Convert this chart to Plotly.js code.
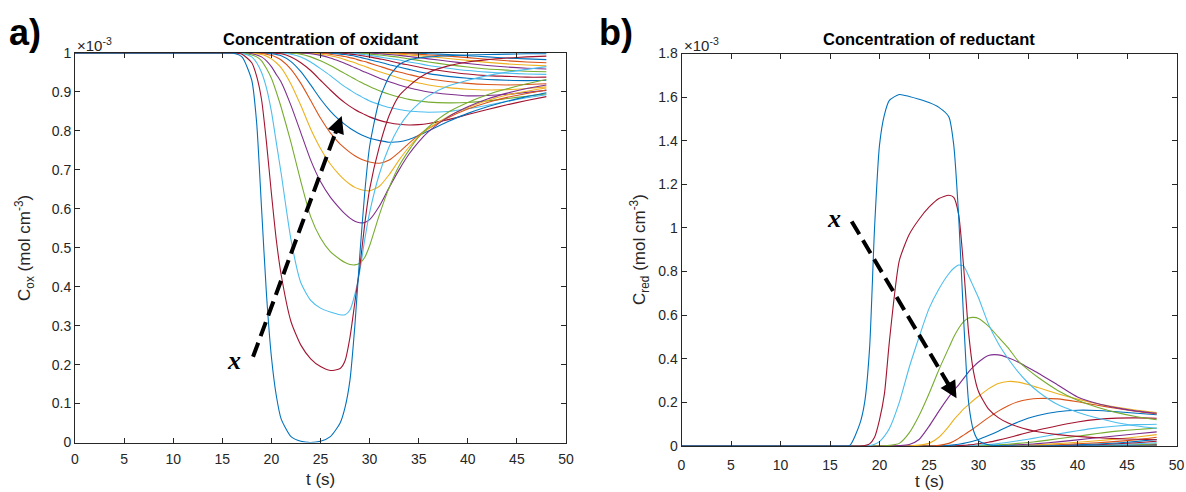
<!DOCTYPE html>
<html>
<head>
<meta charset="utf-8">
<script src="https://cdn.plot.ly/plotly-3.0.1.min.js"></script>
<style>html,body{margin:0;padding:0;background:#fff;}#chart{width:1186px;height:492px;}</style>
</head>
<body>
<div id="chart"></div>
<script>
// time grid (s), shared by every curve
const tGrid = [0,15,16,17,18,18.5,19,19.5,20,20.5,21,22,23,24,25,26,27,27.5,28,28.5,29,29.5,30,31,32,33,34,35,36,38,40,42,44,46,48];

// x-axis ticks
const tTicks = [0,5,10,15,20,25,30,35,40,45,50];

// Oxidant concentration (x 1e-3 mol cm^-3), curve k = 0 (nearest) .. 21 (farthest)
const ox0 = [1,1,1,0.99,0.93,0.82,0.6,0.38,0.22,0.12,0.06,0.015,0.003,0,0.003,0.015,0.05,0.09,0.16,0.3,0.48,0.64,0.76,0.88,0.94,0.97,0.982,0.987,0.99,0.993,0.995,0.996,0.997,0.998,0.998];
const ox1 = [1,1,1,0.997,0.975,0.94,0.88,0.77,0.64,0.52,0.43,0.31,0.25,0.215,0.195,0.185,0.19,0.21,0.27,0.36,0.45,0.56,0.65,0.76,0.84,0.89,0.915,0.935,0.95,0.967,0.977,0.983,0.987,0.99,0.992];
const ox2 = [1,1,1,0.999,0.99,0.975,0.95,0.91,0.85,0.77,0.69,0.52,0.41,0.365,0.345,0.335,0.328,0.328,0.34,0.38,0.44,0.52,0.59,0.69,0.76,0.81,0.845,0.87,0.89,0.915,0.93,0.942,0.951,0.958,0.965];
const ox3 = [1,1,1,1,0.995,0.99,0.98,0.96,0.935,0.9,0.86,0.77,0.67,0.58,0.525,0.49,0.47,0.462,0.457,0.456,0.46,0.475,0.505,0.585,0.655,0.71,0.75,0.785,0.81,0.848,0.873,0.893,0.908,0.921,0.932];
const ox4 = [1,1,1,1,0.998,0.995,0.99,0.98,0.965,0.945,0.925,0.865,0.795,0.725,0.67,0.63,0.6,0.587,0.576,0.568,0.564,0.565,0.572,0.607,0.655,0.7,0.74,0.772,0.798,0.836,0.862,0.882,0.897,0.909,0.918];
const ox5 = [1,1,1,1,1,0.998,0.996,0.992,0.985,0.975,0.962,0.92,0.865,0.805,0.755,0.715,0.685,0.673,0.663,0.655,0.65,0.647,0.646,0.658,0.688,0.725,0.758,0.785,0.806,0.837,0.86,0.878,0.892,0.902,0.91];
const ox6 = [1,1,1,1,1,1,0.999,0.997,0.994,0.989,0.982,0.958,0.922,0.878,0.833,0.795,0.766,0.755,0.745,0.736,0.729,0.724,0.72,0.717,0.725,0.745,0.768,0.789,0.806,0.834,0.856,0.873,0.886,0.896,0.905];
const ox7 = [1,1,1,1,1,1,1,1,0.998,0.996,0.993,0.978,0.952,0.918,0.882,0.851,0.826,0.816,0.807,0.799,0.792,0.786,0.781,0.775,0.771,0.772,0.778,0.788,0.8,0.824,0.845,0.862,0.876,0.888,0.898];
const ox8 = [1,1,1,1,1,1,1,1,1,0.999,0.998,0.99,0.975,0.955,0.93,0.905,0.882,0.872,0.863,0.855,0.848,0.842,0.836,0.827,0.821,0.817,0.815,0.816,0.819,0.829,0.842,0.855,0.867,0.878,0.888];
const ox9 = [1,1,1,1,1,1,1,1,1,1,1,0.997,0.99,0.977,0.96,0.942,0.922,0.913,0.905,0.897,0.89,0.883,0.877,0.868,0.86,0.855,0.851,0.849,0.848,0.85,0.857,0.866,0.876,0.885,0.893];
const ox10 = [1,1,1,1,1,1,1,1,1,1,1,1,0.997,0.99,0.98,0.968,0.954,0.947,0.94,0.933,0.926,0.92,0.914,0.903,0.894,0.887,0.881,0.877,0.874,0.872,0.873,0.877,0.883,0.889,0.895];
const ox11 = [1,1,1,1,1,1,1,1,1,1,1,1,1,0.998,0.994,0.987,0.978,0.973,0.968,0.962,0.957,0.951,0.946,0.935,0.926,0.918,0.911,0.905,0.9,0.894,0.89,0.891,0.894,0.899,0.904];
const ox12 = [1,1,1,1,1,1,1,1,1,1,1,1,1,1,0.997,0.993,0.987,0.983,0.979,0.975,0.97,0.966,0.961,0.952,0.944,0.936,0.929,0.923,0.918,0.911,0.907,0.905,0.906,0.909,0.913];
const ox13 = [1,1,1,1,1,1,1,1,1,1,1,1,1,1,1,0.997,0.993,0.991,0.988,0.985,0.981,0.978,0.974,0.966,0.958,0.951,0.945,0.939,0.934,0.927,0.922,0.919,0.918,0.919,0.921];
const ox14 = [1,1,1,1,1,1,1,1,1,1,1,1,1,1,1,1,0.997,0.996,0.994,0.992,0.989,0.986,0.983,0.977,0.97,0.964,0.958,0.952,0.947,0.94,0.935,0.932,0.93,0.929,0.93];
const ox15 = [1,1,1,1,1,1,1,1,1,1,1,1,1,1,1,1,1,0.999,0.997,0.996,0.994,0.992,0.99,0.985,0.98,0.974,0.969,0.964,0.959,0.952,0.946,0.942,0.94,0.938,0.938];
const ox16 = [1,1,1,1,1,1,1,1,1,1,1,1,1,1,1,1,1,1,1,0.999,0.997,0.996,0.994,0.99,0.986,0.982,0.977,0.973,0.968,0.961,0.955,0.951,0.948,0.946,0.945];
const ox17 = [1,1,1,1,1,1,1,1,1,1,1,1,1,1,1,1,1,1,1,1,1,0.999,0.997,0.995,0.992,0.989,0.985,0.981,0.977,0.97,0.964,0.959,0.956,0.953,0.952];
const ox18 = [1,1,1,1,1,1,1,1,1,1,1,1,1,1,1,1,1,1,1,1,1,1,1,0.998,0.996,0.994,0.991,0.988,0.985,0.979,0.973,0.968,0.964,0.961,0.959];
const ox19 = [1,1,1,1,1,1,1,1,1,1,1,1,1,1,1,1,1,1,1,1,1,1,1,1,0.998,0.997,0.995,0.993,0.991,0.986,0.981,0.976,0.972,0.969,0.967];
const ox20 = [1,1,1,1,1,1,1,1,1,1,1,1,1,1,1,1,1,1,1,1,1,1,1,1,1,0.999,0.998,0.997,0.995,0.992,0.988,0.984,0.98,0.977,0.975];
const ox21 = [1,1,1,1,1,1,1,1,1,1,1,1,1,1,1,1,1,1,1,1,1,1,1,1,1,1,0.999,0.999,0.998,0.996,0.993,0.99,0.987,0.985,0.983];

// Reductant concentration (x 1e-3 mol cm^-3)
const rd0 = [0,0,0,0.003,0.1,0.2,0.45,1.0,1.38,1.52,1.585,1.612,1.603,1.59,1.575,1.553,1.51,1.38,1.05,0.58,0.2,0.07,0.025,0.006,0.002,0.001,0,0,0,0,0,0,0,0,0];
const rd1 = [0,0,0,0,0,0.002,0.01,0.04,0.12,0.24,0.48,0.85,0.97,1.04,1.095,1.135,1.15,1.14,1.06,0.82,0.52,0.34,0.25,0.17,0.13,0.105,0.088,0.075,0.065,0.052,0.044,0.038,0.034,0.031,0.029];
const rd2 = [0,0,0,0,0,0,0.002,0.008,0.02,0.045,0.08,0.2,0.36,0.5,0.63,0.72,0.79,0.815,0.83,0.825,0.78,0.73,0.68,0.56,0.47,0.4,0.34,0.29,0.25,0.19,0.155,0.128,0.107,0.092,0.081];
const rd3 = [0,0,0,0,0,0,0,0,0,0.001,0.003,0.012,0.06,0.14,0.24,0.35,0.45,0.5,0.54,0.57,0.587,0.59,0.585,0.55,0.5,0.45,0.39,0.35,0.315,0.255,0.21,0.178,0.153,0.134,0.12];
const rd4 = [0,0,0,0,0,0,0,0,0,0,0,0.002,0.007,0.03,0.09,0.16,0.225,0.255,0.28,0.31,0.34,0.364,0.385,0.415,0.418,0.405,0.385,0.36,0.335,0.28,0.225,0.195,0.175,0.16,0.15];
const rd5 = [0,0,0,0,0,0,0,0,0,0,0,0,0,0.004,0.012,0.04,0.09,0.12,0.145,0.17,0.19,0.21,0.228,0.262,0.287,0.296,0.293,0.282,0.268,0.24,0.215,0.194,0.178,0.164,0.153];
const rd6 = [0,0,0,0,0,0,0,0,0,0,0,0,0,0,0,0.003,0.012,0.022,0.035,0.05,0.065,0.08,0.097,0.13,0.16,0.185,0.203,0.213,0.218,0.216,0.203,0.187,0.172,0.158,0.147];
const rd7 = [0,0,0,0,0,0,0,0,0,0,0,0,0,0,0,0,0.003,0.005,0.008,0.012,0.017,0.023,0.03,0.048,0.068,0.09,0.11,0.127,0.14,0.157,0.164,0.163,0.157,0.15,0.143];
const rd8 = [0,0,0,0,0,0,0,0,0,0,0,0,0,0,0,0,0,0,0.002,0.003,0.005,0.007,0.01,0.017,0.027,0.038,0.05,0.062,0.073,0.093,0.11,0.122,0.128,0.129,0.127];
const rd9 = [0,0,0,0,0,0,0,0,0,0,0,0,0,0,0,0,0,0,0,0,0.002,0.003,0.004,0.007,0.011,0.017,0.024,0.031,0.039,0.055,0.07,0.083,0.092,0.098,0.1];
const rd10 = [0,0,0,0,0,0,0,0,0,0,0,0,0,0,0,0,0,0,0,0,0,0,0.002,0.003,0.005,0.008,0.012,0.016,0.021,0.033,0.045,0.057,0.068,0.076,0.082];
const rd11 = [0,0,0,0,0,0,0,0,0,0,0,0,0,0,0,0,0,0,0,0,0,0,0,0.001,0.002,0.004,0.006,0.008,0.011,0.019,0.028,0.038,0.047,0.056,0.065];
const rd12 = [0,0,0,0,0,0,0,0,0,0,0,0,0,0,0,0,0,0,0,0,0,0,0,0,0.001,0.002,0.003,0.004,0.006,0.011,0.017,0.024,0.032,0.041,0.052];
const rd13 = [0,0,0,0,0,0,0,0,0,0,0,0,0,0,0,0,0,0,0,0,0,0,0,0,0,0.001,0.001,0.002,0.003,0.006,0.01,0.015,0.021,0.029,0.04];
const rd14 = [0,0,0,0,0,0,0,0,0,0,0,0,0,0,0,0,0,0,0,0,0,0,0,0,0,0,0.001,0.001,0.002,0.003,0.006,0.009,0.014,0.021,0.03];
const rd15 = [0,0,0,0,0,0,0,0,0,0,0,0,0,0,0,0,0,0,0,0,0,0,0,0,0,0,0,0.001,0.001,0.002,0.004,0.006,0.01,0.015,0.022];
const rd16 = [0,0,0,0,0,0,0,0,0,0,0,0,0,0,0,0,0,0,0,0,0,0,0,0,0,0,0,0,0.001,0.001,0.002,0.004,0.006,0.01,0.015];
const rd17 = [0,0,0,0,0,0,0,0,0,0,0,0,0,0,0,0,0,0,0,0,0,0,0,0,0,0,0,0,0,0.001,0.001,0.002,0.004,0.006,0.01];
const rd18 = [0,0,0,0,0,0,0,0,0,0,0,0,0,0,0,0,0,0,0,0,0,0,0,0,0,0,0,0,0,0,0.001,0.001,0.002,0.004,0.007];
const rd19 = [0,0,0,0,0,0,0,0,0,0,0,0,0,0,0,0,0,0,0,0,0,0,0,0,0,0,0,0,0,0,0,0.001,0.001,0.003,0.005];
const rd20 = [0,0,0,0,0,0,0,0,0,0,0,0,0,0,0,0,0,0,0,0,0,0,0,0,0,0,0,0,0,0,0,0,0.001,0.002,0.003];
const rd21 = [0,0,0,0,0,0,0,0,0,0,0,0,0,0,0,0,0,0,0,0,0,0,0,0,0,0,0,0,0,0,0,0,0,0.001,0.002];

const oxCurves = [ox0,ox1,ox2,ox3,ox4,ox5,ox6,ox7,ox8,ox9,ox10,ox11,ox12,ox13,ox14,ox15,ox16,ox17,ox18,ox19,ox20,ox21];
const rdCurves = [rd0,rd1,rd2,rd3,rd4,rd5,rd6,rd7,rd8,rd9,rd10,rd11,rd12,rd13,rd14,rd15,rd16,rd17,rd18,rd19,rd20,rd21];

// MATLAB default colour order
const matlabColors = ['#0072BD','#D95319','#EDB120','#7E2F8E','#77AC30','#4DBEEE','#A2142F'];

const W = 1186, H = 492;
const px = v => v / W;
const py = v => 1 - v / H;

const traces = [];
function addCurves(curves, xa, ya) {
  const n = curves.length;
  for (let k = n - 1; k >= 0; k--) {
    traces.push({
      x: tGrid, y: curves[k], xaxis: xa, yaxis: ya,
      type: 'scatter', mode: 'lines', hoverinfo: 'skip', showlegend: false,
      line: {color: matlabColors[(7 - (k % 7)) % 7], width: 1.1, shape: 'spline', smoothing: 0.6}
    });
  }
}
addCurves(oxCurves, 'x', 'y');
addCurves(rdCurves, 'x2', 'y2');

const SANS = 'Liberation Sans, Arial, sans-serif';
const axisBase = {
  showline: true, linecolor: '#262626', linewidth: 1, mirror: 'ticks',
  ticks: 'inside', ticklen: 5, tickwidth: 1, tickcolor: '#262626',
  showgrid: false, zeroline: false, fixedrange: true,
  tickfont: {family: SANS, size: 14, color: '#262626'}
};

const txtFont = {family: SANS, size: 17, color: '#262626'};

function note(x, y, text, font, extra) {
  return Object.assign({xref: 'paper', yref: 'paper', x: px(x), y: py(y), text: text,
    showarrow: false, xanchor: 'center', yanchor: 'middle', font: font}, extra || {});
}

const layout = {
  width: W, height: H,
  margin: {l: 0, r: 0, t: 0, b: 0},
  paper_bgcolor: '#ffffff', plot_bgcolor: '#ffffff',
  showlegend: false,
  xaxis: Object.assign({}, axisBase, {domain: [px(75), px(566)], range: [0, 50], tickvals: tTicks, anchor: 'y', ticklabelstandoff: 4}),
  yaxis: Object.assign({}, axisBase, {domain: [py(442.5), py(53)], range: [0, 1], dtick: 0.1, tick0: 0, anchor: 'x'}),
  xaxis2: Object.assign({}, axisBase, {domain: [px(681.5), px(1176.5)], range: [0, 50], tickvals: tTicks, anchor: 'y2', ticklabelstandoff: 6}),
  yaxis2: Object.assign({}, axisBase, {domain: [py(446), py(53.5)], range: [0, 1.8], dtick: 0.2, tick0: 0, anchor: 'x2'}),
  shapes: [
    {type: 'line', xref: 'x', yref: 'y', x0: 18.13, y0: 0.22, x1: 26.87, y1: 0.819,
     line: {color: '#000000', width: 4, dash: '15px,7px'}},
    {type: 'line', xref: 'x2', yref: 'y2', x0: 17.19, y0: 1.03, x1: 27.38, y1: 0.251,
     line: {color: '#000000', width: 4, dash: '15px,7px'}}
  ],
  annotations: [
    // arrow heads
    {xref: 'x', yref: 'y', x: 27.16, y: 0.838, ax: -7, ay: 19, text: '', showarrow: true,
     arrowhead: 2, arrowsize: 0.85, arrowwidth: 4, arrowcolor: '#000000'},
    {xref: 'x2', yref: 'y2', x: 27.78, y: 0.219, ax: -10, ay: -17, text: '', showarrow: true,
     arrowhead: 2, arrowsize: 0.85, arrowwidth: 4, arrowcolor: '#000000'},
    // x labels by arrows
    note(234, 360, '<b><i>x</i></b>', {family: 'Liberation Serif, DejaVu Serif, serif', size: 26, color: '#000000'}),
    note(834, 219, '<b><i>x</i></b>', {family: 'Liberation Serif, DejaVu Serif, serif', size: 26, color: '#000000'}),
    // panel titles
    note(320.5, 39, '<b>Concentration of oxidant</b>', {family: SANS, size: 16.5, color: '#000000'}),
    note(929, 39, '<b>Concentration of reductant</b>', {family: SANS, size: 16.5, color: '#000000'}),
    // exponent labels
    note(75, 44, '×10<sup>-3</sup>', {family: SANS, size: 15, color: '#262626'}, {xanchor: 'left'}),
    note(682, 44, '×10<sup>-3</sup>', {family: SANS, size: 15, color: '#262626'}, {xanchor: 'left'}),
    // axis titles
    note(320.5, 479, 't (s)', txtFont),
    note(929, 481, 't (s)', txtFont),
    note(25, 248, 'C<sub>ox</sub> (mol cm<sup>-3</sup>)', txtFont, {textangle: -90}),
    note(639, 250, 'C<sub>red</sub> (mol cm<sup>-3</sup>)', txtFont, {textangle: -90}),
    // panel letters
    note(7, 32, '<b>a)</b>', {family: SANS, size: 36, color: '#000000'}, {xanchor: 'left'}),
    note(597, 32, '<b>b)</b>', {family: SANS, size: 36, color: '#000000'}, {xanchor: 'left'})
  ]
};

Plotly.newPlot('chart', traces, layout, {displayModeBar: false, staticPlot: true});
</script>
</body>
</html>
